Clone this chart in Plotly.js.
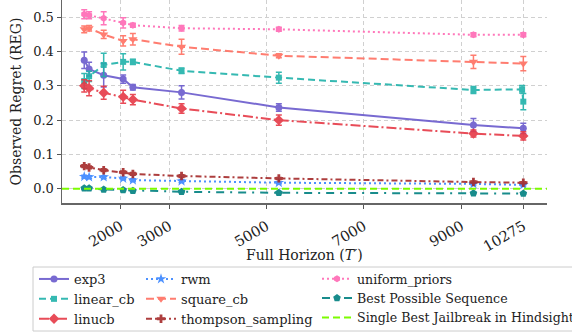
<!DOCTYPE html>
<html>
<head>
<meta charset="utf-8">
<script src="https://cdn.plot.ly/plotly-3.0.1.min.js"></script>
<style>html,body{margin:0;padding:0;background:#fff;}#chart{width:572px;height:333px;}</style>
</head>
<body>
<div id="chart"></div>
<script>
const horizons = [1250, 1350, 1650, 2050, 2250, 3250, 5250, 9250, 10275];
const horizonsLinearCb = [1250, 1350, 1650, 2050, 2250, 3250, 5250, 9250, 10250, 10275];
const xTickValues = [2000, 3000, 5000, 7000, 9000, 10275];
const yTickValues = [0.0, 0.1, 0.2, 0.3, 0.4, 0.5];

const exp3 = [0.375, 0.349, 0.331, 0.320, 0.296, 0.281, 0.237, 0.186, 0.176];
const exp3Err = [0.024, 0.020, 0.034, 0.012, 0.008, 0.019, 0.011, 0.019, 0.015];
const linearCb = [0.314, 0.328, 0.361, 0.370, 0.370, 0.344, 0.324, 0.288, 0.290, 0.254];
const linearCbErr = [0.022, 0.015, 0.034, 0.024, 0.008, 0.008, 0.016, 0.010, 0.011, 0.024];
const linucb = [0.300, 0.293, 0.280, 0.268, 0.260, 0.234, 0.200, 0.161, 0.154];
const linucbErr = [0.018, 0.022, 0.019, 0.019, 0.015, 0.014, 0.015, 0.010, 0.012];
const rwm = [0.035, 0.034, 0.034, 0.030, 0.025, 0.022, 0.0175, 0.014, 0.011];
const rwmErr = [0.004, 0.004, 0.004, 0.004, 0.004, 0.004, 0.003, 0.003, 0.003];
const squareCb = [0.465, 0.468, 0.450, 0.431, 0.436, 0.414, 0.388, 0.370, 0.365];
const squareCbErr = [0.010, 0.008, 0.012, 0.015, 0.017, 0.022, 0.006, 0.019, 0.021];
const thompson = [0.066, 0.062, 0.054, 0.048, 0.043, 0.037, 0.030, 0.0195, 0.0175];
const thompsonErr = [0.004, 0.004, 0.004, 0.004, 0.004, 0.004, 0.003, 0.003, 0.003];
const uniformPriors = [0.509, 0.506, 0.497, 0.484, 0.477, 0.468, 0.465, 0.449, 0.449];
const uniformPriorsErr = [0.013, 0.010, 0.019, 0.015, 0.006, 0.008, 0.006, 0.006, 0.006];
const bestSequence = [0.001, 0.001, -0.002, -0.004, -0.006, -0.009, -0.012, -0.013, -0.014];
const bestSequenceErr = [0.002, 0.002, 0.002, 0.002, 0.002, 0.002, 0.002, 0.002, 0.002];
const singleBestJailbreak = 0.0;

const FONT = 'DejaVu Serif';
function series(name, x, y, err, color, dash, symbol, legend, size) {
  return {
    type: 'scatter', mode: 'lines+markers', name: name, x: x, y: y,
    legend: legend, opacity: 0.9,
    line: {color: color, width: 2, dash: dash},
    marker: {color: color, symbol: symbol, size: size || 7},
    error_y: {type: 'data', array: err, visible: true, color: color, thickness: 1.5, width: 3}
  };
}
const traces = [
  series('exp3', horizons, exp3, exp3Err, '#6a5acd', 'solid', 'circle', 'legend'),
  series('linear_cb', horizonsLinearCb, linearCb, linearCbErr, '#20b2aa', '7px,4px', 'square', 'legend', 6),
  series('linucb', horizons, linucb, linucbErr, '#e63946', '10px,3px,2px,3px', 'diamond', 'legend', 8),
  series('rwm', horizons, rwm, rwmErr, '#3a86ff', '2px,3px', 'star', 'legend2', 8),
  series('square_cb', horizons, squareCb, squareCbErr, '#ff6f61', '8px,4px', 'triangle-down', 'legend2', 8),
  series('thompson_sampling', horizons, thompson, thompsonErr, '#a52a2a', '6px,3px,2px,3px', 'cross', 'legend2', 7),
  series('uniform_priors', horizons, uniformPriors, uniformPriorsErr, '#ff69b4', '2px,3px', 'hexagon', 'legend3'),
  series('Best Possible Sequence', horizons, bestSequence, bestSequenceErr, '#008080', '8px,6px,2px,6px', 'pentagon', 'legend3', 8)
];
const px2x = p => (p - 62) / 485;
const px2y = p => (203 - p) / 203;
const legendBase = {bgcolor: 'rgba(0,0,0,0)', borderwidth: 0, font: {family: FONT, size: 13, color: '#222'},
  xanchor: 'left', yanchor: 'top', orientation: 'v', tracegroupgap: 0, itemwidth: 30};
const layout = {
  width: 572, height: 333,
  margin: {l: 62, r: 25, t: 0, b: 130, autoexpand: false},
  paper_bgcolor: '#fff', plot_bgcolor: '#fff',
  font: {family: FONT, size: 13, color: '#222'},
  showlegend: true,
  xaxis: {
    range: [793, 10762], tickvals: xTickValues, ticktext: xTickValues.map(String),
    tickangle: -30, ticks: 'outside', ticklen: 4, tickcolor: '#555', tickwidth: 1,
    ticklabelstandoff: 4, automargin: false,
    showline: true, linecolor: '#666', linewidth: 1.5, mirror: false, zeroline: false,
    showgrid: true, gridcolor: '#d0d0d0', griddash: '4px,3px', gridwidth: 1,
    tickfont: {family: FONT, size: 14.5, color: '#222'}
  },
  yaxis: {
    range: [-0.0417, 0.5505], tickvals: yTickValues, tickformat: '.1f', automargin: false,
    ticks: 'outside', ticklen: 4, tickcolor: '#555', tickwidth: 1,
    showline: true, linecolor: '#666', linewidth: 1.5, zeroline: false,
    showgrid: true, gridcolor: '#d0d0d0', griddash: '4px,3px', gridwidth: 1,
    tickfont: {family: FONT, size: 13, color: '#222'},
    title: {text: 'Observed Regret (REG)', font: {family: FONT, size: 14, color: '#222'}, standoff: 8}
  },
  annotations: [
    {text: 'Full Horizon (<i>T′</i>)', xref: 'paper', yref: 'paper', x: 0.5, y: px2y(255),
     xanchor: 'center', yanchor: 'middle', showarrow: false, font: {family: FONT, size: 14, color: '#222'}}
  ],
  legend: Object.assign({}, legendBase, {x: px2x(34), y: px2y(264)}),
  legend2: Object.assign({}, legendBase, {x: px2x(141), y: px2y(264)}),
  legend3: Object.assign({}, legendBase, {x: px2x(317), y: px2y(264), font: {family: FONT, size: 12.6, color: '#222'}}),
  shapes: [
    {type: 'line', xref: 'paper', x0: 0, x1: 1, yref: 'y', y0: singleBestJailbreak, y1: singleBestJailbreak,
     line: {color: '#7cfc00', width: 2, dash: '7px,4px'}, showlegend: true, name: 'Single Best Jailbreak in Hindsight', legend: 'legend3'},
    {type: 'rect', xref: 'paper', yref: 'paper', x0: px2x(33), x1: px2x(590), y0: px2y(331), y1: px2y(267),
     line: {color: '#cccccc', width: 1}, fillcolor: 'rgba(0,0,0,0)', layer: 'above'}
  ]
};
Plotly.newPlot('chart', traces, layout, {displayModeBar: false, staticPlot: true});
</script>
</body>
</html>
